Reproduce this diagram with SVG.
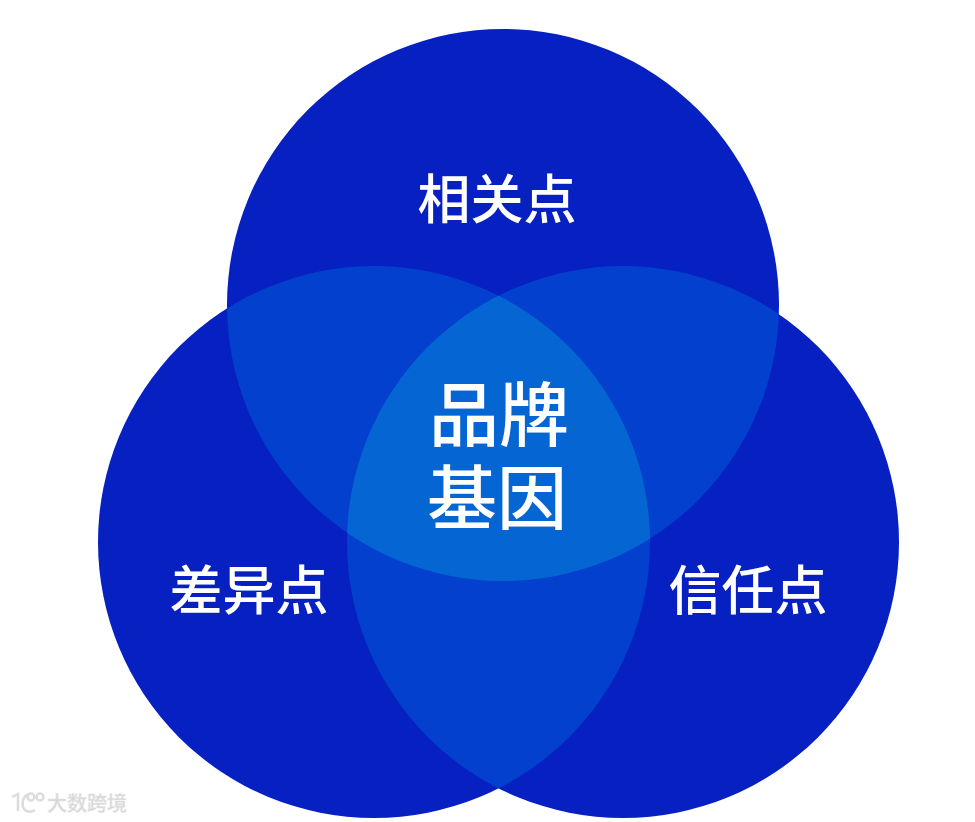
<svg xmlns="http://www.w3.org/2000/svg" width="975" height="822" viewBox="0 0 975 822">
<defs>
<clipPath id="cT"><circle cx="503" cy="305" r="276"/></clipPath>
<clipPath id="cL"><circle cx="374" cy="542" r="276"/></clipPath>
<clipPath id="cR"><circle cx="623" cy="542" r="276"/></clipPath>
</defs>
<style>
.base{fill:#0620c2}
.pair{fill:#0340cd}
.core{fill:#0566d3}
text{font-family:"Noto Sans CJK SC","Liberation Sans",sans-serif;fill:#fff;text-anchor:middle}
.side{font-size:53px;font-weight:500}
.mid{font-size:70px;font-weight:500}
.wm{font-size:20px;font-weight:500;fill:#d6d6d6;text-anchor:start;stroke:#e8e8e8;stroke-width:.5}
.logo{fill:none;stroke:#dcdcdc;stroke-width:2.5}
</style>
<rect width="975" height="822" fill="#fff"/>
<g id="circle-top"><circle class="base" cx="503" cy="305" r="276"/></g>
<g id="circle-left"><circle class="base" cx="374" cy="542" r="276"/></g>
<g id="circle-right"><circle class="base" cx="623" cy="542" r="276"/></g>
<g id="overlaps">
<g clip-path="url(#cT)"><circle class="pair" cx="374" cy="542" r="276"/><circle class="pair" cx="623" cy="542" r="276"/></g>
<g clip-path="url(#cL)"><circle class="pair" cx="623" cy="542" r="276"/></g>
<g clip-path="url(#cT)"><g clip-path="url(#cL)"><circle class="core" cx="623" cy="542" r="276"/></g></g>
</g>
<g id="label-top"><text class="side" x="497" y="219">相关点</text></g>
<g id="label-left"><text class="side" x="249" y="610">差异点</text></g>
<g id="label-right"><text class="side" x="748" y="610">信任点</text></g>
<g id="label-center"><text class="mid"><tspan x="499" y="441">品牌</tspan><tspan x="497" y="524">基因</tspan></text></g>
<g id="watermark">
<path class="logo" d="M12 797L18 794V811M29 794C22 796 21 806 25 810C28 812 32 812 35 810"/>
<circle class="logo" cx="31" cy="797" r="3.5"/><circle class="logo" cx="40" cy="797" r="3.5"/>
<text class="wm" x="47" y="811">大数跨境</text>
</g>
</svg>
